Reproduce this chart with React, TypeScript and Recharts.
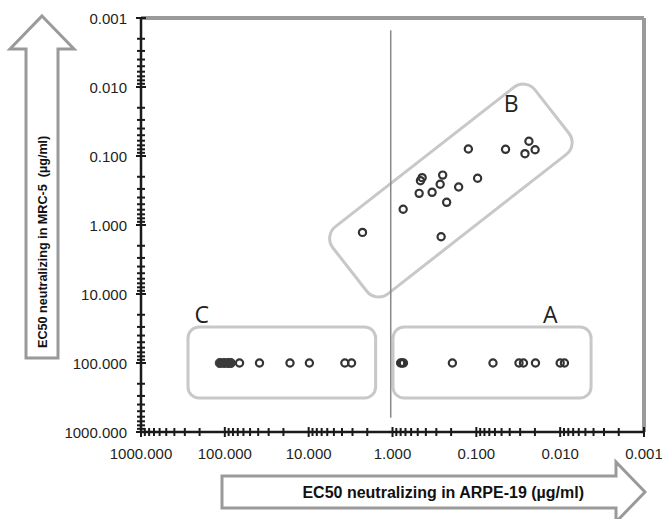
import React from 'react';
import {
  ScatterChart,
  Scatter,
  XAxis,
  YAxis,
  ReferenceLine,
  ReferenceArea,
} from 'recharts';

// log axis ticks (both axes run 0.001 .. 1000, reversed)
const majorTicks = [0.001, 0.01, 0.1, 1, 10, 100, 1000];
const minorSteps = [2, 3, 4, 5, 6, 7, 8, 9];

// group B: neutralizing in both cell lines (EC50 ug/ml)
const groupBArpe = [2.28, 0.746, 0.481, 0.464, 0.443, 0.337, 0.27, 0.252, 0.226, 0.263, 0.1625, 0.0966, 0.1245, 0.0448, 0.0263, 0.0236, 0.0199];
const groupBMrc = [1.28, 0.591, 0.348, 0.228, 0.206, 0.336, 0.257, 0.189, 0.469, 1.48, 0.281, 0.21, 0.0792, 0.08, 0.0926, 0.0612, 0.0811];

// group A: ARPE-19 only, MRC-5 not reached (plotted at 100)
const groupAArpe = [0.8, 0.77, 0.74, 0.193, 0.0633, 0.031, 0.0274, 0.0197, 0.01, 0.00889];
// group C: neither cell line
const groupCArpe = [66.8, 38.6, 16.7, 9.81, 3.7, 3.08];
const groupCArpeDense = [114.7, 102.8, 92.1, 84.8];
const notReached = 100;

// annotation positions (data units)
const cutoff = 1.05;
const boxLetters = ['A', 'B', 'C'];
const letterArpe = [0.01316, 0.0383, 188];
const letterMrc = [19.5, 0.0172, 19.5];

const allTicks = majorTicks.flatMap((d) => (d === 1000 ? [d] : [d, ...minorSteps.map((m) => d * m)]));

const isMajor = (v: number) => Math.abs(Math.log10(v) - Math.round(Math.log10(v))) < 1e-6;

const TICK_SIZE = 6;
const TICK_MARGIN = 2;
const FONT = '"Liberation Sans", Arial, sans-serif';

const XTick = (props: any) => {
  const { x, y, payload } = props;
  const v = payload.value;
  const ay = y - TICK_SIZE - TICK_MARGIN;
  const major = isMajor(v);
  const h = major ? 5 : 4;
  return (
    <g>
      <line x1={x} x2={x} y1={ay - h} y2={ay + h} stroke="#1a1a1a" strokeWidth={2} />
      {major && (
        <text x={x} y={ay + 21} textAnchor="middle" dominantBaseline="central" fontSize={15} fill="#231f20" fontFamily={FONT}>
          {v.toFixed(3)}
        </text>
      )}
    </g>
  );
};

const YTick = (props: any) => {
  const { x, y, payload } = props;
  const v = payload.value;
  const ax = x + TICK_SIZE + TICK_MARGIN;
  const major = isMajor(v);
  const h = major ? 5 : 4;
  return (
    <g>
      <line x1={ax - h} x2={ax + h} y1={y} y2={y} stroke="#1a1a1a" strokeWidth={2} />
      {major && (
        <text x={ax - 14} y={y} textAnchor="end" dominantBaseline="central" fontSize={15} fill="#231f20" fontFamily={FONT}>
          {v.toFixed(3)}
        </text>
      )}
    </g>
  );
};

const Ring = (p: any) => <circle cx={p.cx} cy={p.cy} r={3.6} fill="none" stroke="#333" strokeWidth={2.2} />;
const Dot = (p: any) => <circle cx={p.cx} cy={p.cy} r={4.6} fill="#3a3a3a" stroke="#3a3a3a" strokeWidth={1} />;
const Letter = (p: any) => (
  <text x={p.cx} y={p.cy} textAnchor="middle" dominantBaseline="central" fontSize={23} fill="#222" fontFamily='"Open Sans", sans-serif'>
    {p.payload.label}
  </text>
);

const RoundBox = (p: any) => (
  <rect x={p.x} y={p.y} width={p.width} height={p.height} rx={11} fill="none" stroke="#c8c8c8" strokeWidth={3} />
);

// rounded rectangle tilted 38 degrees, fitted into the given bounding box
const TiltedBox = (p: any) => {
  const th = (38 * Math.PI) / 180;
  const c = Math.cos(th);
  const s = Math.sin(th);
  const r = 15;
  const hx = p.width / 2 - r;
  const hy = p.height / 2 - r;
  const det = c * c - s * s;
  const a = (hx * c - hy * s) / det;
  const b = (hy * c - hx * s) / det;
  const cx = p.x + p.width / 2;
  const cy = p.y + p.height / 2;
  return (
    <rect
      x={cx - a - r}
      y={cy - b - r}
      width={2 * (a + r)}
      height={2 * (b + r)}
      rx={r}
      fill="none"
      stroke="#c8c8c8"
      strokeWidth={3}
      transform={`rotate(-38 ${cx} ${cy})`}
    />
  );
};

const bData = groupBArpe.map((x, i) => ({ x, y: groupBMrc[i] }));
const aData = groupAArpe.map((x) => ({ x, y: notReached }));
const cData = groupCArpe.map((x) => ({ x, y: notReached }));
const cDenseData = groupCArpeDense.map((x) => ({ x, y: notReached }));
const letterData = boxLetters.map((label, i) => ({ x: letterArpe[i], y: letterMrc[i], label }));

const Arrows = () => (
  <svg width={662} height={519} style={{ position: 'absolute', left: 0, top: 0, pointerEvents: 'none' }}>
    <polygon
      points="42,16 74,49 58,49 58,358 26,358 26,49 10,49"
      fill="#fff"
      stroke="#9a9a9a"
      strokeWidth={3}
    />
    <text
      x={47}
      y={348}
      transform="rotate(-90 47 348)"
      textAnchor="start"
      fontSize={12.6}
      fontWeight="bold"
      fill="#111"
      fontFamily={FONT}
    >
      {'EC50 neutralizing in MRC-5\u00a0 (µg/ml)'}
    </text>
    <polygon
      points="222,476 616,476 616,462 645,492 616,522 616,508 222,508"
      fill="#fff"
      stroke="#9a9a9a"
      strokeWidth={3}
    />
    <text x={584} y={498} textAnchor="end" fontSize={16} fontWeight="bold" fill="#111" fontFamily={FONT}>
      EC50 neutralizing in ARPE-19 (µg/ml)
    </text>
  </svg>
);

export default function App() {
  return (
    <div style={{ position: 'absolute', left: 0, top: 0, width: 662, height: 519, background: '#fff' }}>
      <ScatterChart width={662} height={519} margin={{ top: 18, right: 18, bottom: 47, left: 81 }}>
        <XAxis
          dataKey="x"
          type="number"
          scale="log"
          domain={[0.001, 1000]}
          reversed
          allowDataOverflow
          ticks={allTicks}
          interval={0}
          tick={<XTick />}
          tickLine={false}
          tickSize={TICK_SIZE}
          tickMargin={TICK_MARGIN}
          height={40}
          axisLine={{ stroke: '#1a1a1a', strokeWidth: 2.5 }}
        />
        <YAxis
          dataKey="y"
          type="number"
          scale="log"
          domain={[0.001, 1000]}
          reversed
          allowDataOverflow
          ticks={allTicks}
          interval={0}
          tick={<YTick />}
          tickLine={false}
          tickSize={TICK_SIZE}
          tickMargin={TICK_MARGIN}
          width={60}
          axisLine={{ stroke: '#1a1a1a', strokeWidth: 2.5 }}
        />
        <ReferenceLine y={0.001} stroke="#9a9a9a" strokeWidth={4} />
        <ReferenceLine x={0.001} stroke="#9a9a9a" strokeWidth={4} />
        <ReferenceArea x1={275} x2={1.59} y1={30.1} y2={321} shape={<RoundBox />} />
        <ReferenceArea x1={0.986} x2={0.00428} y1={30.1} y2={321} shape={<RoundBox />} />
        <ReferenceArea x1={5.62} x2={0.0072} y1={0.00906} y2={11.05} shape={<TiltedBox />} />
        <ReferenceLine
          segment={[
            { x: cutoff, y: 0.0015 },
            { x: cutoff, y: 620 },
          ]}
          stroke="#888"
          strokeWidth={1.5}
        />
        <Scatter data={bData} shape={<Ring />} isAnimationActive={false} />
        <Scatter data={aData} shape={<Ring />} isAnimationActive={false} />
        <Scatter data={cData} shape={<Ring />} isAnimationActive={false} />
        <Scatter data={cDenseData} shape={<Dot />} isAnimationActive={false} />
        <Scatter data={letterData} shape={<Letter />} isAnimationActive={false} />
      </ScatterChart>
      <Arrows />
    </div>
  );
}
